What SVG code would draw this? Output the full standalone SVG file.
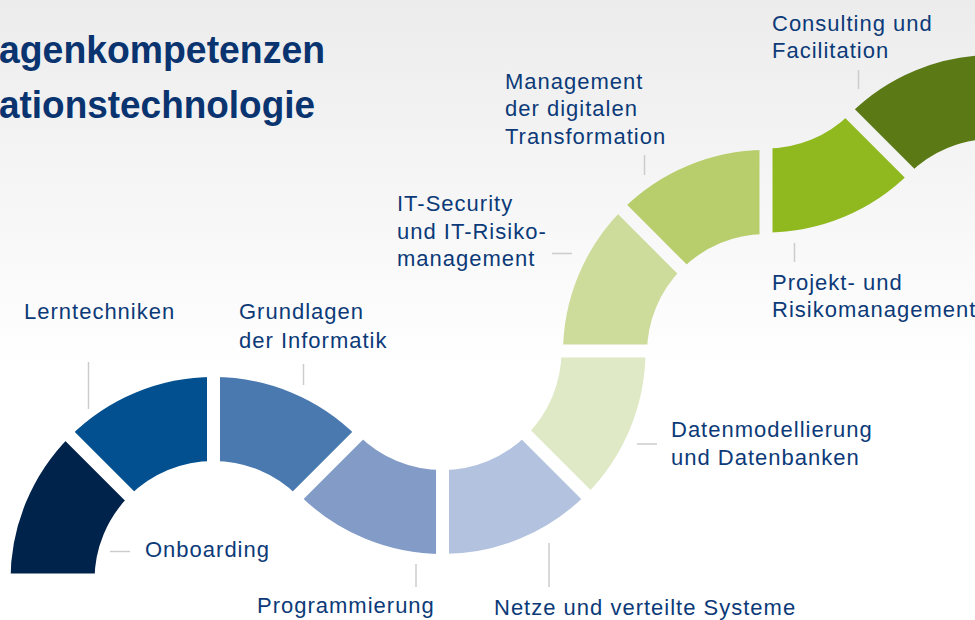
<svg xmlns="http://www.w3.org/2000/svg" width="975" height="620" viewBox="0 0 975 620">
<defs>
<linearGradient id="bg" x1="0" y1="0" x2="0" y2="1">
<stop offset="0" stop-color="#ececec"/>
<stop offset="0.6" stop-color="#ffffff"/>
<stop offset="1" stop-color="#ffffff"/>
</linearGradient>
<mask id="cuts" maskUnits="userSpaceOnUse" x="0" y="0" width="975" height="620">
<rect width="975" height="620" fill="#fff"/>
<g stroke="#000" stroke-width="13">
<line x1="0" y1="580" x2="110" y2="580"/>
<line x1="135.72" y1="502.22" x2="61.47" y2="427.97"/>
<line x1="213.5" y1="350" x2="213.5" y2="475"/>
<line x1="291.28" y1="502.22" x2="365.53" y2="427.97"/>
<line x1="442.5" y1="460" x2="442.5" y2="565"/>
<line x1="520.28" y1="428.78" x2="594.53" y2="503.03"/>
<line x1="550" y1="351" x2="660" y2="351"/>
<line x1="688.22" y1="275.22" x2="613.97" y2="200.97"/>
<line x1="766" y1="140" x2="766" y2="245"/>
<line x1="843.78" y1="107.28" x2="918.03" y2="181.53"/>
</g>
</mask>
</defs>
<style>
.lbl{font-family:"Liberation Sans",Arial,sans-serif;font-size:22px;fill:#0c3a78;letter-spacing:1px}
.ttl{font-family:"Liberation Sans",Arial,sans-serif;font-size:38px;font-weight:bold;fill:#0a3470}
.lead{stroke:#cccccc;stroke-width:1.5;fill:none}
.seg{mask:url(#cuts)}
</style>
<rect width="975" height="620" fill="url(#bg)"/>
<g id="title">
<text class="ttl" x="-1" y="63" textLength="326" lengthAdjust="spacingAndGlyphs">agenkompetenzen</text>
<text class="ttl" x="-1" y="118" textLength="316" lengthAdjust="spacingAndGlyphs">ationstechnologie</text>
</g>
<g id="connectors">
<line class="lead" x1="88.5" y1="362" x2="88.5" y2="409"/>
<line class="lead" x1="303.5" y1="364" x2="303.5" y2="385"/>
<line class="lead" x1="110" y1="551.5" x2="130" y2="551.5"/>
<line class="lead" x1="416" y1="564" x2="416" y2="587"/>
<line class="lead" x1="549" y1="543" x2="549" y2="587"/>
<line class="lead" x1="637" y1="444" x2="657" y2="444"/>
<line class="lead" x1="552" y1="253.5" x2="572" y2="253.5"/>
<line class="lead" x1="644.5" y1="155" x2="644.5" y2="175"/>
<line class="lead" x1="858.5" y1="70" x2="858.5" y2="89"/>
<line class="lead" x1="794.5" y1="243" x2="794.5" y2="262"/>
</g>
<g id="onboarding">
<path class="seg" fill="#00234b" d="M10.5,580 A203,203 0 0 1 69.96,436.46 L129.35,495.85 A119,119 0 0 0 94.5,580 Z"/>
<text class="lbl" x="145" y="557">Onboarding</text>
</g>
<g id="lerntechniken">
<path class="seg" fill="#02508f" d="M69.96,436.46 A203,203 0 0 1 213.5,377 L213.5,461 A119,119 0 0 0 129.35,495.85 Z"/>
<text class="lbl" x="24" y="319">Lerntechniken</text>
</g>
<g id="grundlagen">
<path class="seg" fill="#4a79b0" d="M213.5,377 A203,203 0 0 1 357.04,436.46 L297.65,495.85 A119,119 0 0 0 213.5,461 Z"/>
<text class="lbl" x="239" y="319">Grundlagen</text>
<text class="lbl" x="239" y="347.5">der Informatik</text>
</g>
<g id="programmierung">
<path class="seg" fill="#829bc7" d="M298.96,494.54 A203,203 0 0 0 442.5,554 L442.5,470 A119,119 0 0 1 358.35,435.15 Z"/>
<text class="lbl" x="257" y="613">Programmierung</text>
</g>
<g id="netze">
<path class="seg" fill="#b3c2df" d="M442.5,554 A203,203 0 0 0 586.04,494.54 L526.65,435.15 A119,119 0 0 1 442.5,470 Z"/>
<text class="lbl" x="494" y="615">Netze und verteilte Systeme</text>
</g>
<g id="datenmodellierung">
<path class="seg" fill="#dfe9c5" d="M586.04,494.54 A203,203 0 0 0 645.5,351 L561.5,351 A119,119 0 0 1 526.65,435.15 Z"/>
<text class="lbl" x="671" y="437">Datenmodellierung</text>
<text class="lbl" x="671" y="465">und Datenbanken</text>
</g>
<g id="it-security">
<path class="seg" fill="#cddc9b" d="M563,353 A203,203 0 0 1 622.46,209.46 L681.85,268.85 A119,119 0 0 0 647,353 Z"/>
<text class="lbl" x="397" y="211">IT-Security</text>
<text class="lbl" x="397" y="238.5">und IT-Risiko-</text>
<text class="lbl" x="397" y="266">management</text>
</g>
<g id="digitale-transformation">
<path class="seg" fill="#b8ce6c" d="M622.46,209.46 A203,203 0 0 1 766,150 L766,234 A119,119 0 0 0 681.85,268.85 Z"/>
<text class="lbl" x="505" y="88.5">Management</text>
<text class="lbl" x="505" y="116">der digitalen</text>
<text class="lbl" x="505" y="143.5">Transformation</text>
</g>
<g id="projektmanagement">
<path class="seg" fill="#8fb91f" d="M766,232.5 A203,203 0 0 0 909.54,173.04 L850.15,113.65 A119,119 0 0 1 766,148.5 Z"/>
<text class="lbl" x="772" y="290">Projekt- und</text>
<text class="lbl" x="772" y="317">Risikomanagement</text>
</g>
<g id="consulting">
<path class="seg" fill="#5b7a16" d="M849.46,114.46 A203,203 0 0 1 993,55 L993,139 A119,119 0 0 0 908.85,173.85 Z"/>
<text class="lbl" x="772" y="30.5">Consulting und</text>
<text class="lbl" x="772" y="58">Facilitation</text>
</g>
</svg>
